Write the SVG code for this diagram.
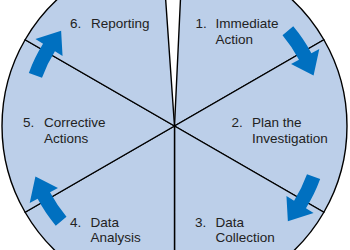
<svg xmlns="http://www.w3.org/2000/svg" width="350" height="250" viewBox="0 0 350 250">
<style>
.seg{fill:#BCCFE9;stroke:#000;stroke-width:1.4;stroke-linejoin:round}
.t{font-family:"Liberation Sans",Arial,sans-serif;font-size:13.5px;fill:#222}
.arr{fill:#0070C0}
</style>
<defs>
<path id="ca" d="M138.86,-24.48 A141,141 0 0 1 140.91,4.92 L131.92,4.61 L145.75,25.7 L163.9,5.72 L154.91,5.41 A155,155 0 0 0 152.65,-26.92 Z"/>
</defs>
<rect width="350" height="250" fill="#fff"/>
<g id="seg1">
<path class="seg" d="M174.5,126 L182.62,-46.31 A172.5,172.5 0 0 1 323.89,39.75 Z"/>
<text class="t" x="195.5" y="28">1.</text>
<text class="t" x="215.5" y="28">Immediate</text>
<text class="t" x="215.5" y="43.5">Action</text>
</g>
<g id="seg2">
<path class="seg" d="M174.5,126 L323.89,39.75 A172.5,172.5 0 0 1 323.89,212.25 Z"/>
<text class="t" x="231.5" y="127">2.</text>
<text class="t" x="252" y="127">Plan the</text>
<text class="t" x="252" y="142.5">Investigation</text>
</g>
<g id="seg3">
<path class="seg" d="M174.5,126 L323.89,212.25 A172.5,172.5 0 0 1 174.5,298.5 Z"/>
<text class="t" x="195" y="226.5">3.</text>
<text class="t" x="215.5" y="226.5">Data</text>
<text class="t" x="215.5" y="242.3">Collection</text>
</g>
<g id="seg4">
<path class="seg" d="M174.5,126 L174.5,298.5 A172.5,172.5 0 0 1 25.11,212.25 Z"/>
<text class="t" x="70" y="226.5">4.</text>
<text class="t" x="90.5" y="226.5">Data</text>
<text class="t" x="90.5" y="242.3">Analysis</text>
</g>
<g id="seg5">
<path class="seg" d="M174.5,126 L25.11,212.25 A172.5,172.5 0 0 1 25.11,39.75 Z"/>
<text class="t" x="23" y="127">5.</text>
<text class="t" x="44" y="127">Corrective</text>
<text class="t" x="44" y="142.5">Actions</text>
</g>
<g id="seg6">
<path class="seg" d="M174.5,126 L25.11,39.75 A172.5,172.5 0 0 1 162.47,-46.08 Z"/>
<text class="t" x="70" y="27.5">6.</text>
<text class="t" x="91" y="27.5">Reporting</text>
</g>
<g id="connectors">
<use href="#ca" class="arr" transform="translate(174.5,126) rotate(-30)"/>
<use href="#ca" class="arr" transform="translate(174.5,126) rotate(30)"/>
<use href="#ca" class="arr" transform="translate(174.5,126) rotate(150)"/>
<use href="#ca" class="arr" transform="translate(174.5,126) rotate(210)"/>
</g>
</svg>
